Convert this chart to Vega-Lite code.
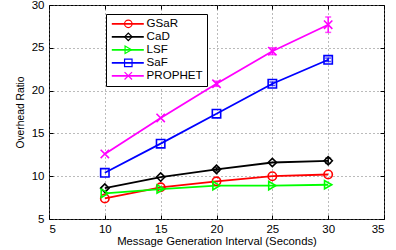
{
  "$schema": "https://vega.github.io/schema/vega-lite/v6.json",
  "width": 335,
  "height": 214,
  "autosize": {"type": "none"},
  "padding": {"left": 49, "top": 5, "right": 12, "bottom": 31},
  "config": {
    "font": "Liberation Sans",
    "view": {"stroke": "black", "strokeWidth": 1},
    "axis": {
      "domain": false,
      "gridColor": "#777",
      "gridDash": [1, 3],
      "gridWidth": 1,
      "tickColor": "black",
      "tickSize": -4,
      "labelColor": "black",
      "labelFontSize": 11.5,
      "titleColor": "black",
      "titleFontWeight": "normal",
      "titleFontSize": 11.3
    }
  },
  "datasets": {
    "series": [
      {"x": 10, "y": 7.4, "s": "GSaR"},
      {"x": 15, "y": 8.7, "s": "GSaR"},
      {"x": 20, "y": 9.4, "s": "GSaR"},
      {"x": 25, "y": 10.0, "s": "GSaR"},
      {"x": 30, "y": 10.2, "s": "GSaR"},
      {"x": 10, "y": 8.6, "s": "CaD"},
      {"x": 15, "y": 9.9, "s": "CaD"},
      {"x": 20, "y": 10.8, "s": "CaD"},
      {"x": 25, "y": 11.6, "s": "CaD"},
      {"x": 30, "y": 11.8, "s": "CaD"},
      {"x": 10, "y": 8.0, "s": "LSF"},
      {"x": 15, "y": 8.5, "s": "LSF"},
      {"x": 20, "y": 8.9, "s": "LSF"},
      {"x": 25, "y": 8.9, "s": "LSF"},
      {"x": 30, "y": 9.0, "s": "LSF"},
      {"x": 10, "y": 10.4, "s": "SaF"},
      {"x": 15, "y": 13.8, "s": "SaF"},
      {"x": 20, "y": 17.3, "s": "SaF"},
      {"x": 25, "y": 20.8, "s": "SaF"},
      {"x": 30, "y": 23.6, "s": "SaF"},
      {"x": 10, "y": 12.6, "s": "PROPHET"},
      {"x": 15, "y": 16.8, "s": "PROPHET"},
      {"x": 20, "y": 20.8, "s": "PROPHET"},
      {"x": 25, "y": 24.6, "s": "PROPHET"},
      {"x": 30, "y": 27.7, "s": "PROPHET"}
    ],
    "errors": [
      {"x": 30, "lo": 26.8, "hi": 28.6, "s": "PROPHET"},
      {"x": 25, "lo": 24.2, "hi": 25.0, "s": "PROPHET"},
      {"x": 20, "lo": 20.5, "hi": 21.1, "s": "PROPHET"},
      {"x": 25, "lo": 20.6, "hi": 21.0, "s": "SaF"},
      {"x": 30, "lo": 23.4, "hi": 23.8, "s": "SaF"},
      {"x": 30, "lo": 11.5, "hi": 12.1, "s": "CaD"},
      {"x": 20, "lo": 10.6, "hi": 11.0, "s": "CaD"}
    ]
  },
  "layer": [
    {
      "data": {"name": "series"},
      "mark": {"type": "line", "strokeWidth": 1.8},
      "encoding": {
        "x": {"field": "x", "type": "quantitative", "scale": {"domain": [5, 35], "nice": false},
              "axis": {"values": [5, 10, 15, 20, 25, 30, 35], "title": "Message Generation Interval (Seconds)", "titlePadding": 1, "labelPadding": 8}},
        "y": {"field": "y", "type": "quantitative", "scale": {"domain": [5, 30], "nice": false},
              "axis": {"values": [5, 10, 15, 20, 25, 30], "title": "Overhead Ratio", "titleFontSize": 10.3, "titlePadding": 6, "labelPadding": 9}},
        "color": {"field": "s", "type": "nominal",
          "scale": {"domain": ["GSaR", "CaD", "LSF", "SaF", "PROPHET"], "range": ["#ff0000", "#000000", "#00ff00", "#0000ff", "#ff00ff"]},
          "legend": {"orient": "none", "legendX": 57, "legendY": 9, "title": null, "symbolType": "M-1,0H7", "symbolSize": 64, "symbolStrokeWidth": 1.8,
                     "labelFontSize": 11.6, "labelColor": "black", "labelOffset": 25, "padding": 4, "rowPadding": 0, "strokeColor": "black", "fillColor": "white"}
        }
      }
    },
    {
      "data": {"name": "errors"},
      "mark": {"type": "errorbar", "ticks": {"size": 6}, "thickness": 1.5},
      "encoding": {
        "x": {"field": "x", "type": "quantitative", "axis": null},
        "y": {"field": "lo", "type": "quantitative", "axis": null},
        "y2": {"field": "hi"},
        "color": {"field": "s", "type": "nominal",
          "scale": {"domain": ["GSaR", "CaD", "LSF", "SaF", "PROPHET"], "range": ["#ff0000", "#000000", "#00ff00", "#0000ff", "#ff00ff"]},
          "legend": null}
      }
    },
    {
      "data": {"name": "series"},
      "mark": {"type": "point", "filled": false, "strokeWidth": 1.6, "size": 70, "opacity": 1},
      "encoding": {
        "x": {"field": "x", "type": "quantitative", "axis": {"orient": "top", "labels": false, "grid": false, "title": null, "values": [5, 10, 15, 20, 25, 30, 35]}},
        "y": {"field": "y", "type": "quantitative", "axis": {"orient": "right", "labels": false, "grid": false, "title": null, "values": [5, 10, 15, 20, 25, 30]}},
        "color": {"field": "s", "type": "nominal",
          "scale": {"domain": ["GSaR", "CaD", "LSF", "SaF", "PROPHET"], "range": ["#ff0000", "#000000", "#00ff00", "#0000ff", "#ff00ff"]},
          "legend": {"orient": "none", "legendX": 69.5, "legendY": 9, "title": null, "symbolSize": 56, "symbolStrokeWidth": 1.2,
                     "labelFontSize": 11.6, "labelOpacity": 0, "labelExpr": "' '", "labelOffset": 4, "padding": 4, "rowPadding": 0}
        },
        "shape": {"field": "s", "type": "nominal",
          "scale": {"domain": ["GSaR", "CaD", "LSF", "SaF", "PROPHET"], "range": ["circle", "diamond", "triangle-right", "square", "M-1,-1L1,1M-1,1L1,-1"]},
          "legend": {"orient": "none", "legendX": 69.5, "legendY": 9, "title": null}
        }
      }
    }
  ],
  "resolve": {"scale": {"color": "independent", "shape": "independent"}, "axis": {"x": "independent", "y": "independent"}}
}
